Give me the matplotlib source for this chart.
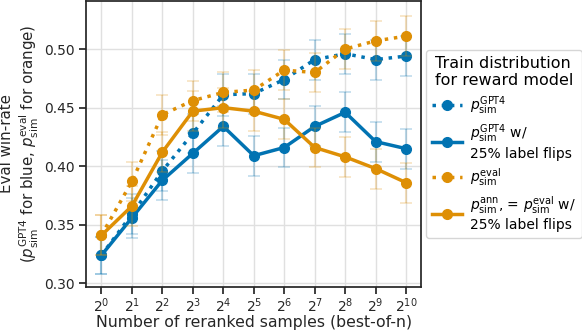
import numpy as np
import matplotlib
matplotlib.use('Agg')
import matplotlib.pyplot as plt

# best-of-n sample counts (powers of two)
exps = list(range(11))
n_samples = [2**e for e in exps]

# blue: p_sim^GPT4
gpt4 = [0.324, 0.359, 0.396, 0.428, 0.461, 0.462, 0.474, 0.491, 0.496, 0.491, 0.494]
gpt4_err = [0.016, 0.017, 0.017, 0.017, 0.018, 0.017, 0.017, 0.017, 0.017, 0.017, 0.017]
# blue: p_sim^GPT4 with 25% label flips
gpt4_flip = [0.324, 0.356, 0.388, 0.411, 0.434, 0.409, 0.416, 0.434, 0.446, 0.421, 0.415]
gpt4_flip_err = [0.016, 0.017, 0.017, 0.017, 0.017, 0.017, 0.017, 0.017, 0.017, 0.017, 0.017]
# orange: p_sim^eval
ev = [0.341, 0.387, 0.444, 0.456, 0.463, 0.465, 0.482, 0.480, 0.500, 0.507, 0.511]
ev_err = [0.017, 0.017, 0.017, 0.017, 0.017, 0.017, 0.017, 0.017, 0.017, 0.017, 0.017]
# orange: p_sim^ann = p_sim^eval with 25% label flips
ev_flip = [0.341, 0.366, 0.412, 0.447, 0.450, 0.447, 0.440, 0.416, 0.408, 0.398, 0.386]
ev_flip_err = [0.017, 0.017, 0.017, 0.017, 0.017, 0.017, 0.017, 0.017, 0.017, 0.017, 0.017]

blue = '#0173b2'
orange = '#de8f05'

plt.rcParams['font.family'] = 'DejaVu Sans'
plt.rcParams['mathtext.fontset'] = 'dejavusans'

fig = plt.figure(figsize=(5.82, 3.31), dpi=100)
ax = fig.add_axes([0.148, 0.133, 0.576, 0.864])

series = [
    (gpt4, gpt4_err, blue, ':', r'$p_{\rm sim}^{\rm GPT4}$'),
    (gpt4_flip, gpt4_flip_err, blue, '-', r'$p_{\rm sim}^{\rm GPT4}$ w/' + '\n25% label flips'),
    (ev, ev_err, orange, ':', r'$p_{\rm sim}^{\rm eval}$'),
    (ev_flip, ev_flip_err, orange, '-',
     r'$p_{\rm sim}^{\rm ann}$, = $p_{\rm sim}^{\rm eval}$ w/' + '\n25% label flips'),
]

for vals, err, c, ls, lab in series:
    ax.errorbar(n_samples, vals, yerr=err, fmt='none', ecolor=c, alpha=0.25,
                capsize=4, elinewidth=1.5, capthick=1.2)
    ax.plot(n_samples, vals, ls=ls, color=c, lw=2.5, marker='o', ms=7, label=lab)

ax.set_xscale('log', base=2)
ax.set_xlim(2**-0.5, 2**10.5)
ax.set_xticks(n_samples)
ax.set_xticklabels([r'$2^{%d}$' % e for e in exps])
ax.minorticks_off()
ax.set_ylim(0.297, 0.541)
ax.set_yticks([0.30, 0.35, 0.40, 0.45, 0.50])
ax.grid(True, color='#e0e0e0', lw=1)
ax.set_axisbelow(True)

for s in ax.spines.values():
    s.set_color('#262626')
    s.set_linewidth(1.25)
ax.tick_params(labelsize=10, length=5, width=1.25, color='#262626', labelcolor='#262626')
ax.tick_params(axis='x', pad=1.5)

ax.set_xlabel('Number of reranked samples (best-of-n)', fontsize=11.3, color='#262626', labelpad=0)
ax.set_ylabel('Eval win-rate\n' + r'($p_{\rm sim}^{\rm GPT4}$ for blue, $p_{\rm sim}^{\rm eval}$ for orange)',
              fontsize=10.8, color='#262626', labelpad=2)

fig.legend(title='Train distribution\nfor reward model', loc='center left',
           bbox_to_anchor=(0.72, 0.565), fontsize=10, title_fontsize=11.5,
           handlelength=2.2, handletextpad=0.6, labelspacing=0.4, borderpad=0.4,
           frameon=True, fancybox=True)

fig.savefig('out.png', dpi=100)
